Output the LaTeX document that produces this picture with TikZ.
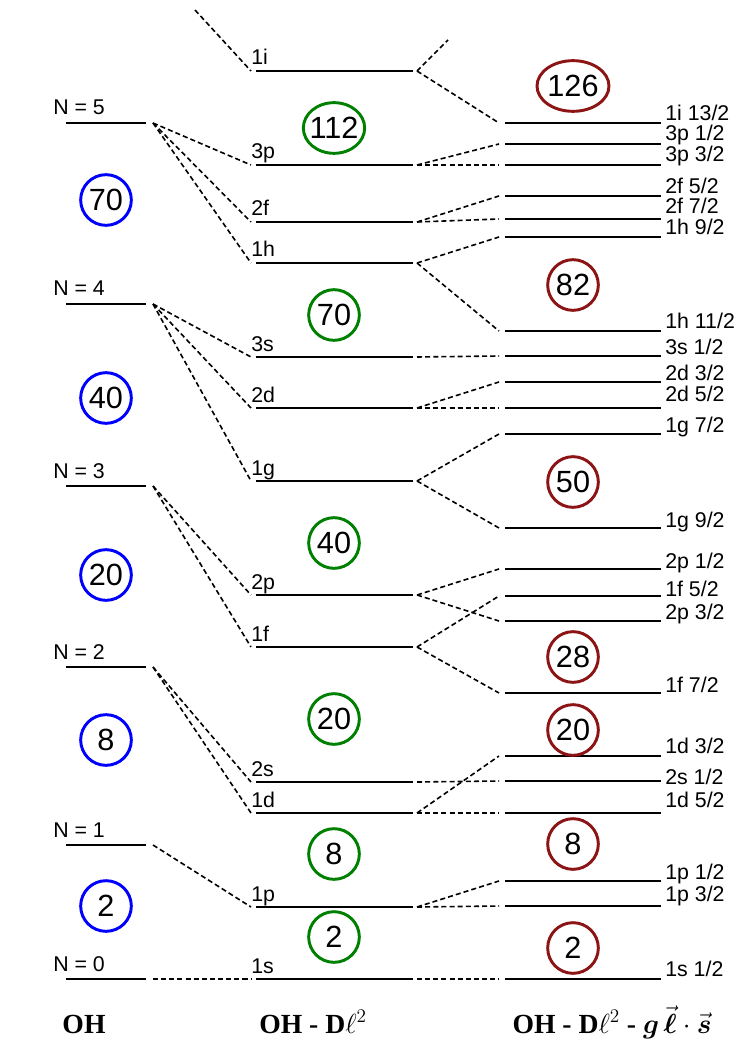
\documentclass[tikz,border=0pt]{standalone}
\usepackage{fontspec}
\setmainfont{Liberation Sans}
\newfontfamily\serifb{Liberation Serif}
\usepackage{amsmath,amssymb,amsbsy}
\usepackage{xcolor}
\usetikzlibrary{shapes,arrows}

\definecolor{azul}{RGB}{0,0,255}
\definecolor{verde}{RGB}{0,128,0}
\definecolor{rojo}{RGB}{140,20,20}

\tikzset{
  nivel/.style={line width=#1},
  nivel/.default=1.3pt,
  conex/.style={line width=1.2pt, dash pattern=on 3.8pt off 2.3pt},
  etiq/.style={anchor=base west, inner sep=0pt, font=\fontsize{16}{16}\selectfont},
  capa/.style={circle, draw, line width=2.2pt, minimum size=38pt, inner sep=0pt, text=black, font=\fontsize{23}{23}\selectfont},
  numero/.style={inner sep=0pt, font=\fontsize{23}{23}\selectfont},
  titulo/.style={anchor=base, inner sep=0pt, font=\fontsize{20.74}{22}\selectfont\serifb\bfseries},
}

\begin{document}
\begin{tikzpicture}[x=0.75pt,y=-0.75pt]
		\useasboundingbox (0,0) rectangle (741,1044);
		% oscilador armonico
		\foreach \n/\y/\w in {5/123/2.1,4/304/1.3,3/486/1.3,2/667/1.3,1/845/1.3,0/979/1.7}
		{
		\draw[nivel=\w pt] (66,\y) -- (146,\y);
		\node[etiq] (N\n) at (53,\y-8) {N = \n};
		\coordinate (N\n-o) at (153,\y);
		}
		% OH - Dl^2
		\foreach \n/\y/\w in {1i/71/2.1,3p/165/1.3,2f/222/1.3,1h/263/1.3,3s/357/2.1,2d/408/2.1,1g/481/1.3,2p/595/1.3,1f/647/1.3,2s/782/1.3,1d/813/1.5,1p/907/2.1,1s/979/1.5}
		{
		\draw[nivel=\w pt] (256,\y) -- (413,\y);
		\node[etiq] (m\n) at (251,\y-6) {\n};
		\coordinate (m\n-i) at (251,\y);
		\coordinate (m\n-o) at (417,\y);
		}
		% con espin-orbita
		\foreach \n/\j/\y/\b/\w in {1i/13/123/121/1.3,3p/1/144/141/2.1,3p/3/165/162/1.3,2f/5/196/194/2.1,2f/7/219/214/1.3,1h/9/237/235/2.1,1h/11/331/329/1.3,3s/1/356/354/1.5,2d/3/382/380/1.3,2d/5/408/401/1.3,1g/7/434/432/1.3,1g/9/528/527/2.1,2p/1/569/568/1.3,1f/5/596/596/2.1,2p/3/621/619/2.1,1f/7/693/692/2.1,1d/3/756/753/1.5,2s/1/781/784/1.3,1d/5/813/807/2.1,1p/1/881/879/1.3,1p/3/906/901/2.1,1s/1/979/976/1.5}
		{
		\draw[nivel=\w pt] (505,\y) -- (661,\y);
		\node[etiq] (r\n\j) at (665,\b) {\n\ \j/2};
		\coordinate (r\n\j-i) at (499,\y);
		}
		% lineas de union
		\coordinate (sup-izq) at (195,10);
		\coordinate (sup-der) at (448,40);
		\draw[conex] (sup-izq) -- (m1i-i);
		\draw[conex] (m1i-o) -- (sup-der);
		\foreach \a/\b in {N5/m3p,N5/m2f,N5/m1h,N4/m3s,N4/m2d,N4/m1g,N3/m2p,N3/m1f,N2/m2s,N2/m1d,N1/m1p,N0/m1s}
		\draw[conex] (\a-o) -- (\b-i);
		\foreach \a/\b in {m1i/r1i13,m3p/r3p1,m3p/r3p3,m2f/r2f5,m2f/r2f7,m1h/r1h9,m1h/r1h11,m3s/r3s1,m2d/r2d3,m2d/r2d5,m1g/r1g7,m1g/r1g9,m2p/r2p1,m2p/r2p3,m1f/r1f5,m1f/r1f7,m2s/r2s1,m1d/r1d3,m1d/r1d5,m1p/r1p1,m1p/r1p3,m1s/r1s1}
		\draw[conex] (\a-o) -- (\b-i);
		% numeros magicos
		\foreach \n/\y in {70/200,40/398,20/575,8/740,2/906}
		\node[capa, draw=azul] (a\n) at (106,\y) {\n};
		\foreach \n/\y in {70/315,40/543,20/719,8/854,2/937}
		\node[capa, draw=verde] (v\n) at (334,\y) {\n};
		\foreach \n/\y in {82/285,50/482,28/657,20/730,8/844,2/948}
		\node[capa, draw=rojo] (r\n) at (573,\y) {\n};
		\node[numero] (v112) at (334,128) {112};
		\draw[verde, line width=2.2pt] (v112) ellipse [x radius=23pt, y radius=19pt];
		\node[numero] (r126) at (573,86) {126};
		\draw[rojo, line width=2.2pt] (r126) ellipse [x radius=27pt, y radius=19pt];
		% titulos
		\node[titulo] (tOH) at (84,1033) {OH};
		\node[titulo] (tOHD) at (313,1033) {OH - D$\ell^{2}$};
		\node[titulo] (tOHDL) at (612,1033) {OH - D$\ell^{2}$ - $\boldsymbol{g}\,\vec{\boldsymbol{\ell}}\cdot\vec{\boldsymbol{s}}$};
\end{tikzpicture}
\end{document}
